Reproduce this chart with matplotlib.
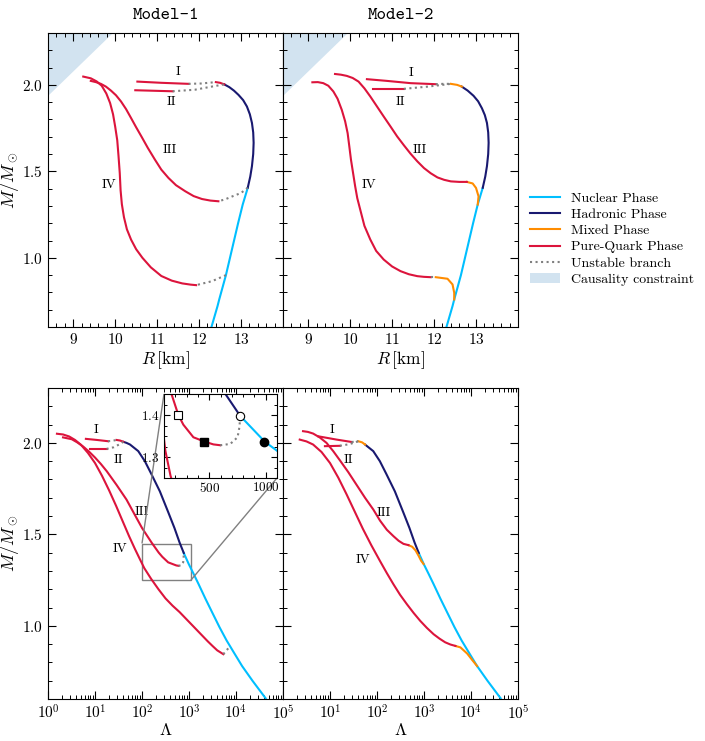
import matplotlib
matplotlib.use('Agg')
import numpy as np
import matplotlib.pyplot as plt
from matplotlib.lines import Line2D
from matplotlib.patches import Patch
from matplotlib.ticker import MultipleLocator, LogLocator, NullFormatter
from mpl_toolkits.axes_grid1.inset_locator import mark_inset

plt.rcParams['font.family'] = 'serif'
plt.rcParams['font.serif'] = ['cmr10']
plt.rcParams['mathtext.fontset'] = 'cm'
plt.rcParams['axes.formatter.use_mathtext'] = True

# colours of the phases
c_nuc = '#00bfff'
c_had = '#191970'
c_mix = '#ff8c00'
c_quark = '#dc143c'
c_unst = 'gray'

# ---------------- mass-radius data ----------------
# causality limit corner
caus_R = [8.4, 8.4, 9.95]
caus_M = [1.935, 2.3, 2.3]

# nuclear branch (same in both models)
nuc_R = [12.30, 12.44, 12.48, 12.64, 12.93, 13.04, 13.16]
nuc_M = [0.604, 0.721, 0.759, 0.90, 1.20, 1.308, 1.405]

# Model-1
had1_R = [13.16, 13.22, 13.26, 13.29, 13.30, 13.29, 13.26, 13.21, 13.14, 13.05, 12.94, 12.83, 12.72, 12.60]
had1_M = [1.405, 1.47, 1.53, 1.60, 1.665, 1.725, 1.78, 1.83, 1.875, 1.912, 1.942, 1.967, 1.987, 2.003]
q1_top_R = [12.60, 12.50, 12.40]
q1_top_M = [2.003, 2.012, 2.016]
q1_I_R = [10.53, 11.10, 11.75]
q1_I_M = [2.019, 2.012, 2.006]
u1_I_R = [11.75, 12.05, 12.40]
u1_I_M = [2.006, 2.008, 2.016]
q1_II_R = [10.48, 11.37]
q1_II_M = [1.969, 1.963]
u1_II_R = [11.37, 11.90, 12.30, 12.60]
u1_II_M = [1.963, 1.972, 1.99, 2.003]
q1_III_R = [12.46, 12.27, 12.07, 11.87, 11.67, 11.45, 11.27, 11.1, 10.95, 10.78, 10.63, 10.5,
            10.38, 10.26, 10.14, 10.02, 9.90, 9.78, 9.66, 9.54, 9.42]
q1_III_M = [1.327, 1.331, 1.34, 1.357, 1.385, 1.42, 1.462, 1.51, 1.567, 1.635, 1.70, 1.755,
            1.808, 1.86, 1.904, 1.94, 1.967, 1.99, 2.006, 2.016, 2.023]
u1_III_R = [13.16, 13.0, 12.8, 12.62, 12.46]
u1_III_M = [1.405, 1.375, 1.356, 1.338, 1.327]
q1_IV_R = [9.24, 9.42, 9.56, 9.68, 9.79, 9.88, 9.95, 10.0, 10.05, 10.08, 10.11, 10.13, 10.16, 10.21,
           10.28, 10.38, 10.5, 10.65, 10.85, 11.1, 11.35, 11.6, 11.8, 11.93]
q1_IV_M = [2.048, 2.038, 2.02, 1.995, 1.95, 1.895, 1.83, 1.76, 1.68, 1.59, 1.49, 1.39, 1.31, 1.235,
           1.165, 1.105, 1.05, 1.0, 0.945, 0.895, 0.868, 0.852, 0.845, 0.842]
u1_IV_R = [12.64, 12.31, 11.93]
u1_IV_M = [0.90, 0.865, 0.842]

# Model-2
had2_R = [13.16, 13.22, 13.26, 13.29, 13.30, 13.29, 13.26, 13.21, 13.14, 13.05, 12.94, 12.80, 12.66]
had2_M = [1.405, 1.47, 1.53, 1.60, 1.665, 1.725, 1.78, 1.825, 1.865, 1.905, 1.937, 1.967, 1.99]
m2_top_R = [12.66, 12.55, 12.40]
m2_top_M = [1.99, 2.0, 2.006]
q2_I_R = [10.40, 10.88, 11.44, 12.04]
q2_I_M = [2.033, 2.023, 2.01, 2.004]
u2_I_R = [12.04, 12.22, 12.40]
u2_I_M = [2.004, 2.006, 2.006]
q2_II_R = [10.55, 11.28]
q2_II_M = [1.977, 1.977]
u2_II_R = [11.28, 11.85, 12.40]
u2_II_M = [1.977, 1.99, 2.006]
q2_III_R = [9.64, 9.78, 9.92, 10.06, 10.2, 10.34, 10.48, 10.64, 10.8, 10.96, 11.12, 11.28, 11.44,
            11.6, 11.76, 11.92, 12.08, 12.24, 12.4, 12.6, 12.78]
q2_III_M = [2.063, 2.059, 2.052, 2.04, 2.019, 1.98, 1.933, 1.875, 1.817, 1.76, 1.702, 1.651, 1.602,
            1.558, 1.519, 1.489, 1.465, 1.451, 1.442, 1.439, 1.439]
m2_III_R = [12.78, 12.92, 13.0, 13.06, 13.04]
m2_III_M = [1.439, 1.43, 1.404, 1.355, 1.308]
q2_IV_R = [9.10, 9.23, 9.36, 9.48, 9.6, 9.7, 9.8, 9.88, 9.94, 9.98, 10.02, 10.07, 10.12, 10.17,
           10.24, 10.34, 10.48, 10.62, 10.8, 11.0, 11.2, 11.4, 11.6, 11.76, 11.92]
q2_IV_M = [2.015, 2.016, 2.01, 1.995, 1.962, 1.92, 1.856, 1.79, 1.721, 1.645, 1.567, 1.49, 1.413,
           1.345, 1.279, 1.185, 1.106, 1.04, 0.99, 0.95, 0.923, 0.905, 0.894, 0.89, 0.888]
u2_IV_R = [11.92, 12.04]
u2_IV_M = [0.888, 0.888]
m2_IV_R = [12.04, 12.32, 12.44, 12.48, 12.48]
m2_IV_M = [0.888, 0.879, 0.846, 0.798, 0.759]

# ---------------- mass-tidal deformability data ----------------
nuc_L = [774, 990, 1259, 1585, 2239, 3090, 4467, 6310, 8913, 13490, 22390, 42660]
nuc_LM = [1.398, 1.337, 1.283, 1.23, 1.148, 1.075, 0.992, 0.92, 0.856, 0.78, 0.70, 0.604]

# Model-1
had1_L = [40, 46.8, 55.6, 83.2, 115, 158, 240, 363, 490, 631, 774]
had1_LM = [2.006, 2.0, 1.991, 1.955, 1.90, 1.83, 1.735, 1.62, 1.535, 1.455, 1.398]
q1_top_L = [28.7, 34, 40]
q1_top_LM = [2.016, 2.013, 2.006]
q1_I_L = [6.4, 11, 19]
q1_I_LM = [2.022, 2.016, 2.009]
u1_I_L = [19, 24, 28.7]
u1_I_LM = [2.009, 2.012, 2.016]
q1_II_L = [7.8, 17.6]
q1_II_LM = [1.967, 1.967]
u1_II_L = [17.6, 25, 33, 40]
u1_II_LM = [1.967, 1.976, 1.992, 2.006]
q1_III_L = [2.09, 3.2, 4.17, 5.6, 7.41, 10, 13.3, 17.8, 28.8, 46.8, 69.2, 100, 160, 227, 271, 360,
            455, 537, 597]
q1_III_LM = [2.03, 2.02, 2.003, 1.98, 1.953, 1.92, 1.885, 1.845, 1.77, 1.69, 1.61, 1.535, 1.455,
             1.40, 1.377, 1.347, 1.337, 1.33, 1.328]
u1_III_L = [597, 686, 751, 768, 774]
u1_III_LM = [1.328, 1.331, 1.347, 1.372, 1.397]
q1_IV_L = [1.55, 2.09, 2.82, 3.76, 5.01, 7.08, 10, 14.1, 20, 28.2, 39.8, 53.1, 70.8, 89.1, 112, 158,
           224, 316, 447, 631, 891, 1259, 1778, 2512, 3162, 3981, 5370]
q1_IV_LM = [2.05, 2.046, 2.035, 2.016, 1.99, 1.945, 1.89, 1.82, 1.74, 1.655, 1.565, 1.49, 1.42, 1.367,
            1.315, 1.255, 1.2, 1.15, 1.11, 1.075, 1.035, 0.995, 0.955, 0.915, 0.89, 0.866, 0.845]
u1_IV_L = [5370, 6400, 7500]
u1_IV_LM = [0.845, 0.868, 0.89]

# inset markers
open_sq = (227, 1.40)
fill_sq = (455, 1.3365)
open_ci = (774, 1.397)
fill_ci = (987, 1.3365)

# Model-2
had2_L = [55.6, 83.2, 115, 158, 240, 363, 490, 631, 774]
had2_LM = [1.991, 1.955, 1.90, 1.83, 1.735, 1.62, 1.535, 1.455, 1.398]
m2_top_L = [40, 48, 56]
m2_top_LM = [2.009, 2.003, 1.991]
q2_I_L = [5.6, 13.8, 28.8]
q2_I_LM = [2.036, 2.018, 2.005]
u2_I_L = [28.8, 34, 40]
u2_I_LM = [2.005, 2.006, 2.009]
q2_II_L = [7.8, 16.2]
q2_II_LM = [1.982, 1.984]
u2_II_L = [16.2, 26, 40]
u2_II_LM = [1.984, 1.993, 2.009]
q2_III_L = [2.67, 3.39, 4.37, 6.03, 8.43, 11.7, 16.2, 24.5, 36.9, 55.6, 83.8, 116, 162, 224, 288,
            366, 468]
q2_III_LM = [2.064, 2.06, 2.051, 2.03, 2.0, 1.955, 1.905, 1.84, 1.77, 1.70, 1.635, 1.575, 1.525,
             1.49, 1.465, 1.448, 1.441]
m2_III_L = [468, 562, 661, 759, 871, 977]
m2_III_LM = [1.441, 1.432, 1.412, 1.385, 1.355, 1.338]
q2_IV_L = [2.27, 3.16, 4.37, 6.61, 10, 15, 22.4, 33.5, 50.1, 75.9, 116, 162, 224, 309, 433, 603,
           832, 1148, 1603, 2138, 2818, 3631, 4677]
q2_IV_LM = [2.018, 2.008, 1.991, 1.95, 1.89, 1.81, 1.72, 1.625, 1.53, 1.44, 1.354, 1.288, 1.227,
            1.17, 1.118, 1.07, 1.027, 0.989, 0.954, 0.93, 0.91, 0.898, 0.89]
m2_IV_L = [4677, 5970, 8318, 10470, 13490]
m2_IV_LM = [0.89, 0.882, 0.848, 0.815, 0.78]

# branch labels
lab_names = ['I', 'II', 'III', 'IV']
lab1_R = [(11.51, 2.077), (11.35, 1.904), (11.31, 1.621), (9.86, 1.419)]
lab2_R = [(11.46, 2.071), (11.2, 1.904), (11.66, 1.621), (10.46, 1.419)]
lab1_L = [(10.7, 2.073), (30.9, 1.909), (97.7, 1.62), (33.9, 1.418)]
lab2_L = [(10.8, 2.073), (24.5, 1.904), (137, 1.618), (51.3, 1.36)]

# ---------------- figure ----------------
fig = plt.figure(figsize=(7.05, 7.41), dpi=100)
W, H = 705, 741
ax00 = fig.add_axes([48 / W, 1 - 327 / H, 235 / W, 294 / H])
ax01 = fig.add_axes([283 / W, 1 - 327 / H, 235 / W, 294 / H])
ax10 = fig.add_axes([48 / W, 1 - 699 / H, 235 / W, 311 / H])
ax11 = fig.add_axes([283 / W, 1 - 699 / H, 235 / W, 311 / H])

lw = 1.5


def style(ax, fs=11):
    ax.tick_params(which='both', direction='in', top=True, right=True, labelsize=fs)
    ax.tick_params(which='major', length=6, width=0.8)
    ax.tick_params(which='minor', length=3, width=0.7)


# Model-1 M-R
ax = ax00
ax.fill(caus_R, caus_M, color='#1f77b4', alpha=0.2, lw=0)
ax.plot(nuc_R, nuc_M, color=c_nuc, lw=lw)
ax.plot(had1_R, had1_M, color=c_had, lw=lw)
ax.plot(q1_top_R, q1_top_M, color=c_quark, lw=lw)
for r, m in [(q1_I_R, q1_I_M), (q1_II_R, q1_II_M), (q1_III_R, q1_III_M), (q1_IV_R, q1_IV_M)]:
    ax.plot(r, m, color=c_quark, lw=lw)
for r, m in [(u1_I_R, u1_I_M), (u1_II_R, u1_II_M), (u1_III_R, u1_III_M), (u1_IV_R, u1_IV_M)]:
    ax.plot(r, m, color=c_unst, lw=lw, ls=':')
for name, pos in zip(lab_names, lab1_R):
    ax.text(pos[0], pos[1], name, ha='center', va='center', fontsize=9.5)

# Model-2 M-R
ax = ax01
ax.fill(caus_R, caus_M, color='#1f77b4', alpha=0.2, lw=0)
ax.plot(nuc_R, nuc_M, color=c_nuc, lw=lw)
ax.plot(had2_R, had2_M, color=c_had, lw=lw)
for r, m in [(m2_top_R, m2_top_M), (m2_III_R, m2_III_M), (m2_IV_R, m2_IV_M)]:
    ax.plot(r, m, color=c_mix, lw=lw)
for r, m in [(q2_I_R, q2_I_M), (q2_II_R, q2_II_M), (q2_III_R, q2_III_M), (q2_IV_R, q2_IV_M)]:
    ax.plot(r, m, color=c_quark, lw=lw)
for r, m in [(u2_I_R, u2_I_M), (u2_II_R, u2_II_M), (u2_IV_R, u2_IV_M)]:
    ax.plot(r, m, color=c_unst, lw=lw, ls=':')
for name, pos in zip(lab_names, lab2_R):
    ax.text(pos[0], pos[1], name, ha='center', va='center', fontsize=9.5)

for ax in [ax00, ax01]:
    ax.set_xlim(8.4, 14.0)
    ax.set_ylim(0.6, 2.3)
    ax.xaxis.set_minor_locator(MultipleLocator(0.2))
    ax.yaxis.set_major_locator(MultipleLocator(0.5))
    ax.yaxis.set_minor_locator(MultipleLocator(0.1))
    ax.set_xticks([9, 10, 11, 12, 13])
    ax.set_xlabel(r'$R\,[\mathrm{km}]$', fontsize=12.5, labelpad=2)
    style(ax)
ax00.set_title('Model-1', family='cmtt10', fontsize=13, pad=10)
ax01.set_title('Model-2', family='cmtt10', fontsize=13, pad=10)

# Model-1 M-Lambda
ax = ax10
ax.plot(nuc_L, nuc_LM, color=c_nuc, lw=lw)
ax.plot(had1_L, had1_LM, color=c_had, lw=lw)
ax.plot(q1_top_L, q1_top_LM, color=c_quark, lw=lw)
for l, m in [(q1_I_L, q1_I_LM), (q1_II_L, q1_II_LM), (q1_III_L, q1_III_LM), (q1_IV_L, q1_IV_LM)]:
    ax.plot(l, m, color=c_quark, lw=lw)
for l, m in [(u1_I_L, u1_I_LM), (u1_II_L, u1_II_LM), (u1_III_L, u1_III_LM), (u1_IV_L, u1_IV_LM)]:
    ax.plot(l, m, color=c_unst, lw=lw, ls=':')
for name, pos in zip(lab_names, lab1_L):
    ax.text(pos[0], pos[1], name, ha='center', va='center', fontsize=9.5)

# Model-2 M-Lambda
ax = ax11
ax.plot(nuc_L, nuc_LM, color=c_nuc, lw=lw)
ax.plot(had2_L, had2_LM, color=c_had, lw=lw)
for l, m in [(m2_top_L, m2_top_LM), (m2_III_L, m2_III_LM), (m2_IV_L, m2_IV_LM)]:
    ax.plot(l, m, color=c_mix, lw=lw)
for l, m in [(q2_I_L, q2_I_LM), (q2_II_L, q2_II_LM), (q2_III_L, q2_III_LM), (q2_IV_L, q2_IV_LM)]:
    ax.plot(l, m, color=c_quark, lw=lw)
for l, m in [(u2_I_L, u2_I_LM), (u2_II_L, u2_II_LM)]:
    ax.plot(l, m, color=c_unst, lw=lw, ls=':')
for name, pos in zip(lab_names, lab2_L):
    ax.text(pos[0], pos[1], name, ha='center', va='center', fontsize=9.5)

for ax in [ax10, ax11]:
    ax.set_xscale('log')
    ax.set_xlim(1, 1e5)
    ax.set_ylim(0.6, 2.3)
    ax.xaxis.set_minor_locator(LogLocator(base=10, subs=np.arange(2, 10), numticks=20))
    ax.xaxis.set_minor_formatter(NullFormatter())
    ax.yaxis.set_major_locator(MultipleLocator(0.5))
    ax.yaxis.set_minor_locator(MultipleLocator(0.1))
    ax.set_xlabel(r'$\Lambda$', fontsize=12.5, labelpad=0)
    style(ax)
ax10.set_xticks([1, 10, 100, 1e3, 1e4, 1e5])
ax11.set_xticks([10, 100, 1e3, 1e4, 1e5])

for ax in [ax00, ax10]:
    ax.set_ylabel(r'$M/M_\odot$', fontsize=13)
    ax.yaxis.set_label_coords(-0.115, 0.5)
for ax in [ax01, ax11]:
    ax.tick_params(labelleft=False)

# inset zoom on Model-1 branch III
axins = fig.add_axes([164 / W, 1 - 478 / H, 113 / W, 84 / H])
axins.plot(nuc_L, nuc_LM, color=c_nuc, lw=lw)
axins.plot(had1_L, had1_LM, color=c_had, lw=lw)
axins.plot(q1_III_L, q1_III_LM, color=c_quark, lw=lw)
axins.plot(q1_IV_L, q1_IV_LM, color=c_quark, lw=lw)
axins.plot(u1_III_L, u1_III_LM, color=c_unst, lw=lw, ls=':')
axins.plot(*open_sq, marker='s', ms=6, mfc='white', mec='black', mew=0.8, zorder=5)
axins.plot(*fill_sq, marker='s', ms=6, mfc='black', mec='black', zorder=5)
axins.plot(*open_ci, marker='o', ms=6, mfc='white', mec='black', mew=0.8, zorder=5)
axins.plot(*fill_ci, marker='o', ms=6, mfc='black', mec='black', zorder=5)
axins.set_xlim(100, 1100)
axins.set_ylim(1.25, 1.45)
axins.set_xticks([500, 1000])
axins.set_yticks([1.3, 1.4])
axins.xaxis.set_minor_locator(MultipleLocator(100))
axins.yaxis.set_minor_locator(MultipleLocator(0.025))
style(axins, fs=9.5)
axins.tick_params(which='major', length=4)
axins.tick_params(which='minor', length=2)
axins.tick_params(axis='x', pad=2)
mark_inset(ax10, axins, loc1=2, loc2=4, fc='none', ec='0.5', lw=1)

# legend
handles = [Line2D([], [], color=c_nuc, lw=lw),
           Line2D([], [], color=c_had, lw=lw),
           Line2D([], [], color=c_mix, lw=lw),
           Line2D([], [], color=c_quark, lw=lw),
           Line2D([], [], color=c_unst, lw=lw, ls=':'),
           Patch(facecolor='#1f77b4', alpha=0.2, lw=0)]
labels = ['Nuclear Phase', 'Hadronic Phase', 'Mixed Phase', 'Pure-Quark Phase',
          'Unstable branch', 'Causality constraint']
fig.legend(handles, labels, loc='center left', bbox_to_anchor=(517 / W, 1 - 239 / H),
           frameon=False, fontsize=10, handlelength=2.2, handletextpad=0.8,
           labelspacing=0.25)

fig.savefig('out.png', dpi=100)
